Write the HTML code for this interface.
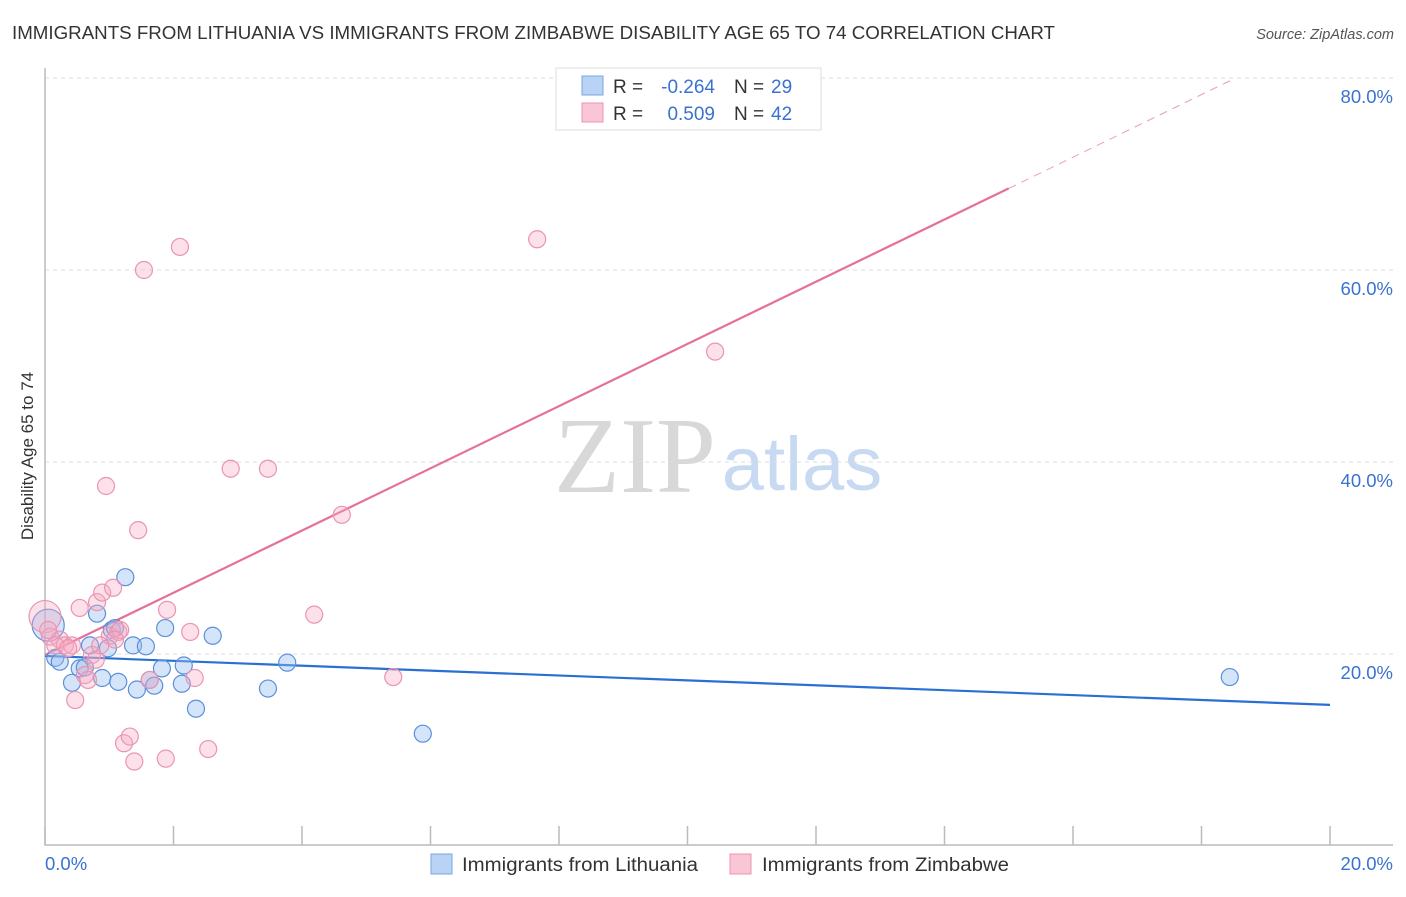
<!DOCTYPE html>
<html><head><meta charset="utf-8"><style>
body{margin:0;background:#fff;font-family:"Liberation Sans",sans-serif;}
svg text{font-family:"Liberation Sans",sans-serif;}
</style></head><body>
<svg id="chart" width="1406" height="892" xmlns="http://www.w3.org/2000/svg">
<text x="12" y="39" font-size="18" fill="#333" textLength="1043" lengthAdjust="spacingAndGlyphs">IMMIGRANTS FROM LITHUANIA VS IMMIGRANTS FROM ZIMBABWE DISABILITY AGE 65 TO 74 CORRELATION CHART</text>
<text x="1394" y="39" font-size="14.5" fill="#555" font-style="italic" text-anchor="end">Source: ZipAtlas.com</text>
<g>
<text x="635" y="492" font-size="108" fill="#d8d8d8" text-anchor="middle" style="font-family:'Liberation Serif',serif">ZIP</text>
<text x="802" y="490" font-size="76" fill="#c8daf2" text-anchor="middle">atlas</text>
</g>
<g id="grid"></g>
<g id="axes"></g>
<g id="trends"></g>
<g id="points"></g>
<text transform="translate(33,456) rotate(-90)" font-size="17" fill="#333" text-anchor="middle">Disability Age 65 to 74</text>
<g>
<rect x="556" y="68" width="265" height="62" fill="#fff" stroke="#ddd"/>
<rect x="582" y="76" width="21" height="19" fill="#b9d3f5" stroke="#7aa6e4"/>
<rect x="582" y="103" width="21" height="19" fill="#f9c6d5" stroke="#ec94b0"/>
<text x="613" y="93" font-size="19" fill="#333">R =</text>
<text x="715" y="93" font-size="19" fill="#3a72d0" text-anchor="end">-0.264</text>
<text x="734" y="93" font-size="19" fill="#333">N =</text>
<text x="771" y="93" font-size="19" fill="#3a72d0">29</text>
<text x="613" y="120" font-size="19" fill="#333">R =</text>
<text x="715" y="120" font-size="19" fill="#3a72d0" text-anchor="end">0.509</text>
<text x="734" y="120" font-size="19" fill="#333">N =</text>
<text x="771" y="120" font-size="19" fill="#3a72d0">42</text>
</g>
<g>
<rect x="431" y="854" width="21" height="20" fill="#b9d3f5" stroke="#7aa6e4"/>
<text x="462" y="871" font-size="19" fill="#333" textLength="236" lengthAdjust="spacingAndGlyphs">Immigrants from Lithuania</text>
<rect x="730" y="854" width="21" height="20" fill="#f9c6d5" stroke="#ec94b0"/>
<text x="762" y="871" font-size="19" fill="#333" textLength="247" lengthAdjust="spacingAndGlyphs">Immigrants from Zimbabwe</text>
</g>
</svg>
<script>
const xTicks=[0,2,4,6,8,10,12,14,16,18,20];
const yTicks=[20,40,60,80];
const yTickLabels=["20.0%","40.0%","60.0%","80.0%"];
const xEndLabels=["0.0%","20.0%"];
const lithX=[0.05,0.16,0.23,0.42,0.54,0.62,0.70,0.81,0.89,0.98,1.04,1.09,1.14,1.25,1.37,1.43,1.57,1.63,1.70,1.82,1.87,2.13,2.16,2.35,2.61,3.47,3.77,5.88,18.44];
const lithY=[23.0,19.6,19.2,17.0,18.5,18.6,20.9,24.2,17.5,20.6,22.5,22.7,17.1,28.0,20.9,16.3,20.8,17.3,16.7,18.5,22.7,16.9,18.8,14.3,21.9,16.4,19.1,11.7,17.6];
const zimX=[0,0.08,0.23,0.31,0.42,0.47,0.54,0.62,0.73,0.81,0.89,0.95,1.01,1.06,1.14,1.17,1.23,1.32,1.39,1.45,1.54,1.63,1.88,1.90,2.10,2.26,2.33,2.54,2.89,3.47,4.19,4.62,5.42,7.66,10.43,0.16,0.36,0.67,0.79,1.09,0.86,0.05];
const zimY=[23.9,21.8,21.5,20.9,20.9,15.2,24.8,17.8,19.9,25.4,26.4,37.5,21.9,26.9,22.3,22.5,10.7,11.4,8.8,32.9,60.0,17.3,9.1,24.6,62.4,22.3,17.5,10.1,39.3,39.3,24.1,34.5,17.6,63.2,51.5,20.9,20.6,17.3,19.4,21.5,20.9,22.5];
const lithTrend=[19.8,14.7];
const zimTrend=[19.9,68.5,15.0,79.9,18.5];
const NS="http://www.w3.org/2000/svg";
const X=v=>45+v*64.25, Y=v=>846-v*9.6;
function mk(t,a,p){const e=document.createElementNS(NS,t);for(const k in a)e.setAttribute(k,a[k]);p.appendChild(e);return e;}
const grid=document.getElementById('grid'),axes=document.getElementById('axes');
yTicks.forEach((t,i)=>{
 const l=mk('line',{x1:45,x2:1393,y1:Y(t),y2:Y(t),stroke:'#ddd','stroke-dasharray':'4,4'},grid);
 
 
 const tx=mk('text',{x:1393,y:Y(t)+25,'font-size':18.5,fill:'#3a72d0','text-anchor':'end'},axes);
 tx.textContent=yTickLabels[i];
 
 
});
const ax=mk('path',{d:'M45,68V845H1393',fill:'none',stroke:'#bbb','stroke-width':1.5},axes);


xTicks.forEach(t=>{
 const l=mk('line',{x1:X(t),x2:X(t),y1:826,y2:845,stroke:'#bbb','stroke-width':1.5},axes);
 
 
});
[[0,'start',45],[20,'end',1393]].forEach((a,i)=>{
 const tx=mk('text',{x:a[2],y:870,'font-size':18.5,fill:'#3a72d0','text-anchor':a[1]},axes);
 tx.textContent=xEndLabels[i];
 
 
});
const pts=document.getElementById('points');
lithX.forEach((x,i)=>{
 const c=mk('circle',{cx:X(x),cy:Y(lithY[i]),r:i==0?16:8.5,fill:'rgba(150,190,240,0.4)',stroke:'#5b8fdc','stroke-width':1.2},pts);
 
 
});
zimX.forEach((x,i)=>{
 const c=mk('circle',{cx:X(x),cy:Y(zimY[i]),r:i==0?16:8.5,fill:'rgba(246,170,195,0.35)',stroke:'#eb94b0','stroke-width':1.2},pts);
 
 
});
const tr=document.getElementById('trends');
const lt=mk('line',{x1:X(0),y1:Y(lithTrend[0]),x2:X(20),y2:Y(lithTrend[1]),stroke:'#2a6fd4','stroke-width':2.2},tr);


const zt=mk('line',{x1:X(0),y1:Y(zimTrend[0]),x2:X(zimTrend[2]),y2:Y(zimTrend[1]),stroke:'#e5709a','stroke-width':2.2},tr);


const zd=mk('line',{x1:X(zimTrend[2]),y1:Y(zimTrend[1]),x2:X(zimTrend[4]),y2:Y(zimTrend[3]),stroke:'#eaa0b8','stroke-width':1,'stroke-dasharray':'8,6'},tr);


</script>
</body></html>
